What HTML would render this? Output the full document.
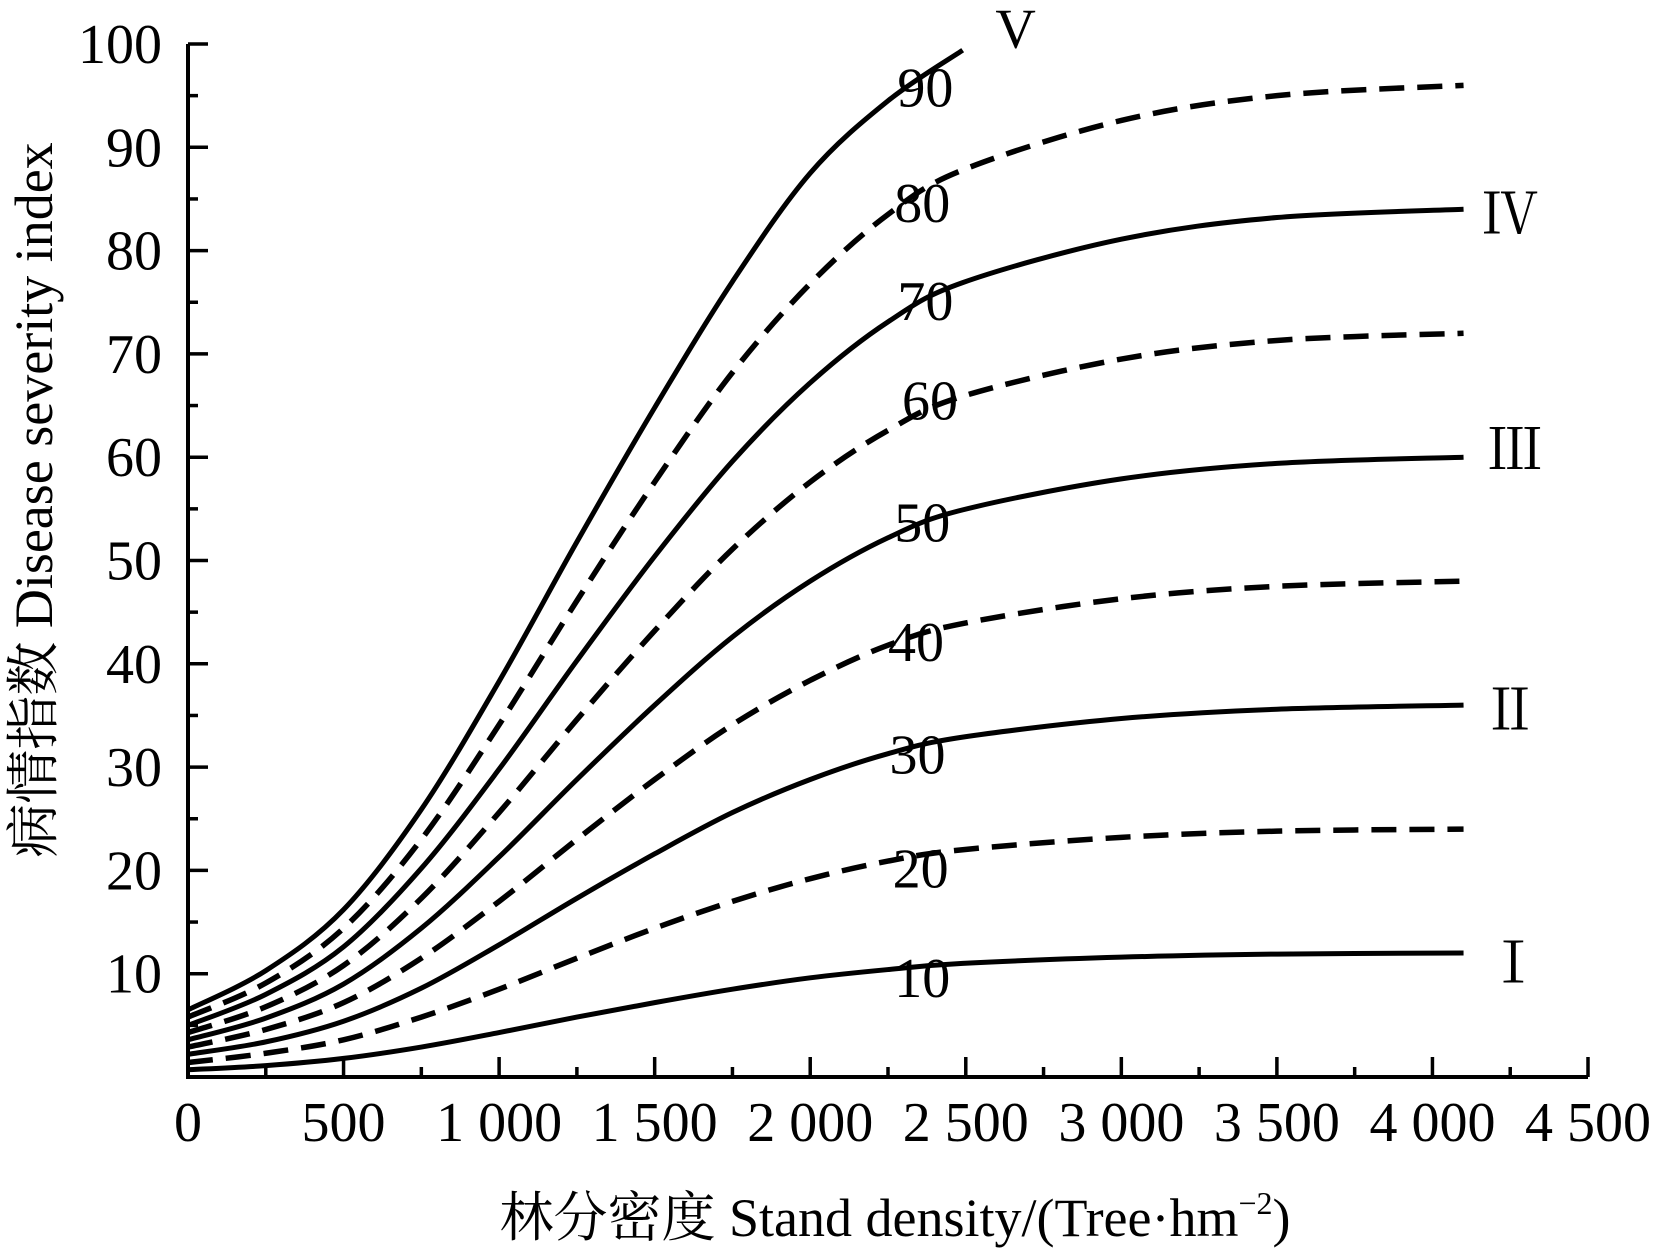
<!DOCTYPE html>
<html><head><meta charset="utf-8"><style>
html,body{margin:0;padding:0;background:#fff;}
svg{display:block;}
text{font-family:"Liberation Serif","Noto Serif CJK SC","Noto Sans CJK SC",serif;fill:#000;}
</style></head><body>
<svg id="chart" width="1654" height="1253" viewBox="0 0 1654 1253" xmlns="http://www.w3.org/2000/svg">
<text x="895" y="1236" font-size="54" text-anchor="middle">林分密度  Stand density/(Tree·hm<tspan font-size="32" dy="-22">−2</tspan><tspan dy="22">)</tspan></text>
<text transform="translate(52,500) rotate(-90)" font-size="54" text-anchor="middle">病情指数  Disease severity index</text>
</svg>
<script>
const xTicks = [0,500,1000,1500,2000,2500,3000,3500,4000,4500];
const xTickLabels = ["0","500","1 000","1 500","2 000","2 500","3 000","3 500","4 000","4 500"];
const yTicks = [10,20,30,40,50,60,70,80,90,100];
const yTickLabels = ["10","20","30","40","50","60","70","80","90","100"];
const densities = [0,250,500,750,1000,1250,1500,1750,2000,2250,2490,3000,3500,4100];
const seriesI   = [0.7,1.1,1.8,2.9,4.3,5.8,7.2,8.5,9.6,10.4,11.0,11.6,11.9,12.0];
const series20  = [1.4,2.3,3.6,5.8,8.5,11.5,14.4,17.0,19.2,20.9,22.0,23.2,23.8,24.0];
const seriesII  = [2.2,3.4,5.4,8.6,12.8,17.3,21.6,25.6,28.8,31.3,32.9,34.7,35.6,36.0];
const series40  = [2.9,4.6,7.2,11.5,17.0,23.0,28.8,34.1,38.4,41.8,43.9,46.3,47.5,48.0];
const seriesIII = [3.6,5.7,9.0,14.4,21.3,28.8,36.0,42.6,48.0,52.2,54.9,57.9,59.4,60.0];
const series60  = [4.3,6.8,10.8,17.3,25.6,34.6,43.2,51.1,57.6,62.6,65.9,69.5,71.3,72.0];
const seriesIV  = [5.0,8.0,12.6,20.2,29.8,40.3,50.4,59.6,67.2,73.1,76.9,81.1,83.2,84.0];
const series80  = [5.8,9.1,14.4,23.0,34.1,46.1,57.6,68.2,76.8,83.5,87.8,92.6,95.0,96.0];
const seriesV   = [6.5,10.3,16.2,25.9,38.3,51.8,64.8,77.0,87.5,94.5,99.4];
const contourLabels = ["10","20","30","40","50","60","70","80","90"];
const contourLabelX = [2360,2355,2345,2340,2360,2385,2370,2360,2370];
const contourLabelY = [9.6,20.2,31.2,42.1,53.7,65.5,75.1,84.6,95.8];
const gradeLabels = ["V","Ⅳ","Ⅲ","Ⅱ","Ⅰ"];
const gradeX = [2660,4250,4265,4250,4260];
const gradeY = [101.5,83.5,60.7,35.5,11.0];

const X0=188, X1=1588, Y0=1077, Y1=44;
const sx = v => X0 + v/4500*(X1-X0);
const sy = v => Y0 - v/100*(Y0-Y1);
const svg = document.getElementById('chart');
const NS = 'http://www.w3.org/2000/svg';
function mk(tag, attrs){const e=document.createElementNS(NS,tag);for(const k in attrs)e.setAttribute(k,attrs[k]);svg.appendChild(e);return e;}

let a = mk('path',{d:`M${X0},${Y1} L${X0},${Y0} L${X1},${Y0}`,stroke:'#000','stroke-width':4,fill:'none'});


for(let v=0; v<=4500; v+=250){
  const major = v%500===0;
  const t = mk('line',{x1:sx(v),x2:sx(v),y1:Y0,y2:Y0-(major?20:10),stroke:'#000','stroke-width':3.5});
  
  
}
for(let v=5; v<=100; v+=5){
  const major = v%10===0;
  const t = mk('line',{x1:X0,x2:X0+(major?20:10),y1:sy(v),y2:sy(v),stroke:'#000','stroke-width':3.5});
  
  
}
xTicks.forEach((v,i)=>{
  const t = mk('text',{x:sx(v),y:1141,'font-size':56,'text-anchor':'middle'});
  t.textContent = xTickLabels[i];
  
  
});
yTicks.forEach((v,i)=>{
  const t = mk('text',{x:162,y:sy(v)+19,'font-size':56,'text-anchor':'end'});
  t.textContent = yTickLabels[i];
  
  
});

function pathFor(vals){
  const pts = vals.map((v,i)=>[sx(densities[i]),sy(v)]);
  let d = `M${pts[0][0]},${pts[0][1]}`;
  for(let i=0;i<pts.length-1;i++){
    const p0=pts[Math.max(0,i-1)],p1=pts[i],p2=pts[i+1],p3=pts[Math.min(pts.length-1,i+2)];
    const c1=[p1[0]+(p2[0]-p0[0])/6,p1[1]+(p2[1]-p0[1])/6];
    const c2=[p2[0]-(p3[0]-p1[0])/6,p2[1]-(p3[1]-p1[1])/6];
    d+=` C${c1[0]},${c1[1]} ${c2[0]},${c2[1]} ${p2[0]},${p2[1]}`;
  }
  return d;
}
const all = [[seriesI,false,'curve-grade-1'],[series20,true,'curve-20'],[seriesII,false,'curve-grade-2'],[series40,true,'curve-40'],[seriesIII,false,'curve-grade-3'],[series60,true,'curve-60'],[seriesIV,false,'curve-grade-4'],[series80,true,'curve-80'],[seriesV,false,'curve-grade-5']];
all.forEach(([vals,dash,name])=>{
  const p = mk('path',{d:pathFor(vals),stroke:'#000','stroke-width':dash?5.5:5,fill:'none'});
  if(dash) p.setAttribute('stroke-dasharray','25 13');
  
  
});
contourLabels.forEach((s,i)=>{
  const t = mk('text',{x:sx(contourLabelX[i]),y:sy(contourLabelY[i])+19,'font-size':56,'text-anchor':'middle'});
  t.textContent = s;
  
  
});
gradeLabels.forEach((s,i)=>{
  const t = mk('text',{x:sx(gradeX[i]),y:sy(gradeY[i])+19,'font-size':56,'text-anchor':'middle'});
  t.textContent = s;
  
  
});
</script>
</body></html>
